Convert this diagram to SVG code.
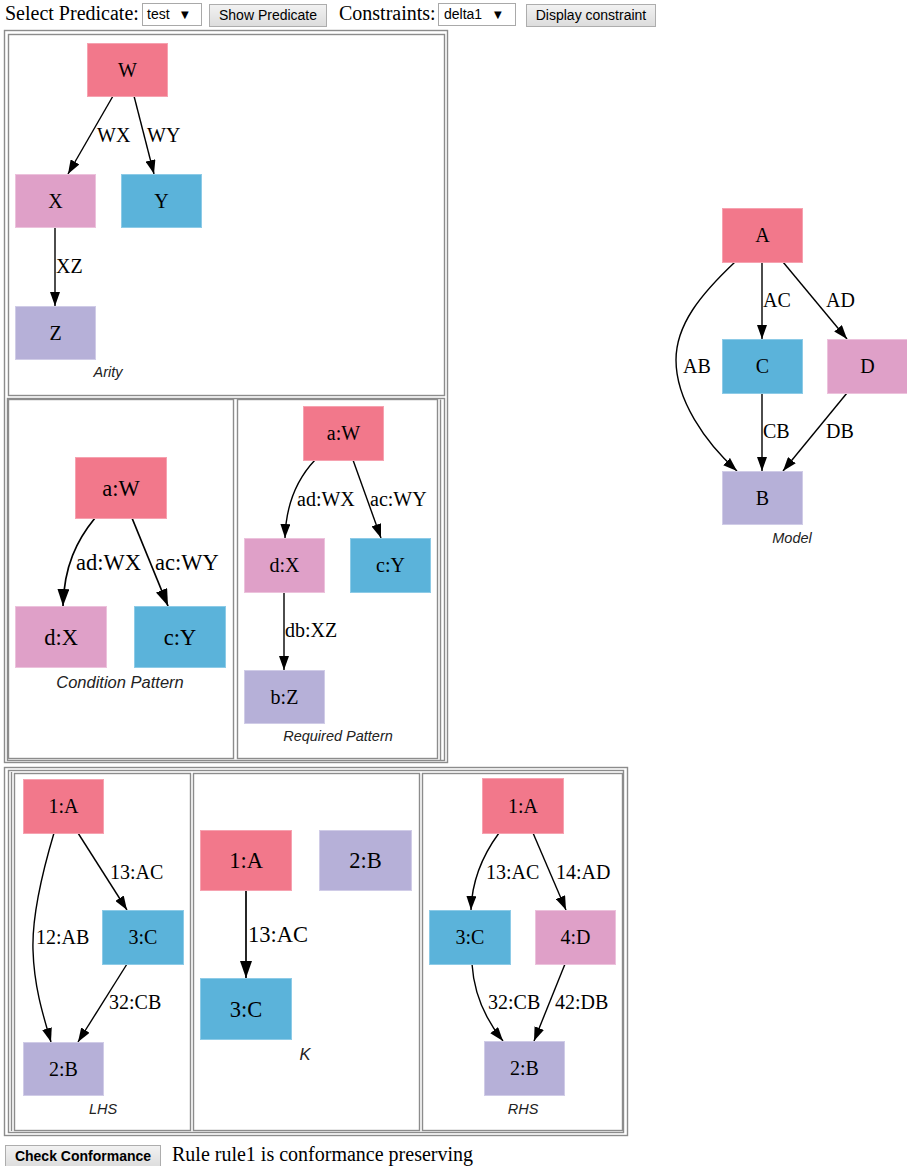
<svg xmlns="http://www.w3.org/2000/svg" width="907" height="1166" viewBox="0 0 907 1166">
  <defs>
    <marker id="arrow" viewBox="0 0 14 10" refX="14" refY="5" markerWidth="14" markerHeight="10" markerUnits="userSpaceOnUse" orient="auto">
      <path d="M0,0 L14,5 L0,10 z" fill="#000"/>
    </marker>
    <marker id="arrowL" viewBox="0 0 17 12" refX="17" refY="6" markerWidth="17" markerHeight="12" markerUnits="userSpaceOnUse" orient="auto">
      <path d="M0,0 L17,6 L0,12 z" fill="#000"/>
    </marker>
    <linearGradient id="btn" x1="0" y1="0" x2="0" y2="1">
      <stop offset="0" stop-color="#f2f2f2"/>
      <stop offset="1" stop-color="#dcdcdc"/>
    </linearGradient>
  </defs>
  <style>
    .page { font-family: "Liberation Serif", "Times New Roman", serif; font-size: 20px; fill: #000; }
    .ctl { font-family: "Liberation Sans", Arial, sans-serif; font-size: 14px; fill: #000; }
    .btn { fill: url(#btn); stroke: #adadad; stroke-width: 1; }
    .sel { fill: #fff; stroke: #a9a9a9; stroke-width: 1; }
    .tbl { fill: none; stroke: #8c8c8c; stroke-width: 1.4; }
    .t, .lbl { font-family: "Liberation Serif", "Times New Roman", serif; font-size: 20px; fill: #000; }
    .t { text-anchor: middle; }
    .t.big, .lbl.big { font-size: 22.5px; }
    .cap { font-family: "Liberation Sans", Arial, sans-serif; font-style: italic; font-size: 14.5px; fill: #222; text-anchor: middle; }
    .cap.big { font-size: 16.5px; }
    .red rect { fill: #f2788b; stroke: #f6a2b0; stroke-width: 1; }
    .blue rect { fill: #5bb3da; stroke: #8dcbe7; stroke-width: 1; }
    .pink rect { fill: #dfa0c8; stroke: #ecc2dc; stroke-width: 1; }
    .lav rect { fill: #b6b0d8; stroke: #d0cce7; stroke-width: 1; }
    .e path { fill: none; stroke: #000; stroke-width: 1.4; marker-end: url(#arrow); }
    .e.big path { stroke-width: 1.7; marker-end: url(#arrowL); }
  </style>

  <rect width="907" height="1166" fill="#fff"/>

  <!-- toolbar -->
  <g id="toolbar">
    <text class="page" x="5" y="20">Select Predicate:</text>
    <rect class="sel" x="142.5" y="3.5" width="59" height="22"/>
    <text class="ctl" x="147" y="19" font-size="15">test</text>
    <text x="181" y="18" font-family="DejaVu Sans, sans-serif" font-size="10">▼</text>
    <rect class="btn" x="209.5" y="4.5" width="117" height="22"/>
    <text class="ctl" x="268" y="20" text-anchor="middle">Show Predicate</text>
    <text class="page" x="339" y="20">Constraints:</text>
    <rect class="sel" x="438.5" y="3.5" width="77" height="22"/>
    <text class="ctl" x="444" y="19" font-size="15">delta1</text>
    <text x="494" y="18" font-family="DejaVu Sans, sans-serif" font-size="10">▼</text>
    <rect class="btn" x="526.5" y="4.5" width="129" height="22"/>
    <text class="ctl" x="591" y="20" text-anchor="middle">Display constraint</text>
  </g>

  <!-- table frames -->
  <g id="frames">
    <rect class="tbl" x="4.5" y="30.5" width="443" height="732"/>
    <rect class="tbl" x="8.5" y="34.5" width="436" height="361"/>
    <rect class="tbl" x="7.5" y="398.5" width="437" height="362"/>
    <rect class="tbl" x="8.5" y="399.5" width="225" height="359"/>
    <rect class="tbl" x="237.5" y="399.5" width="200" height="359"/>
    <line class="tbl" x1="440.5" y1="399.5" x2="440.5" y2="760.5"/>

    <rect class="tbl" x="4.5" y="767.5" width="623" height="368"/>
    <rect class="tbl" x="8.5" y="770.5" width="615" height="362"/>
    <line class="tbl" x1="11.5" y1="772" x2="11.5" y2="1131"/>
    <rect class="tbl" x="14.5" y="773.5" width="176" height="357"/>
    <rect class="tbl" x="193.5" y="773.5" width="226" height="357"/>
    <rect class="tbl" x="422.5" y="773.5" width="200" height="357"/>
  </g>

  <!-- Arity -->
  <g id="arity" font-family="Liberation Serif, serif">
    <g id="arity-edges" class="e">
      <path d="M113,96 L68,174"/>
      <path d="M134,96 L154,174"/>
      <path d="M55,228 L55,306"/>
    </g>
    <text class="lbl" x="97" y="142">WX</text>
    <text class="lbl" x="147" y="142">WY</text>
    <text class="lbl" x="56" y="273">XZ</text>
    <g id="arity-W" class="red"><rect x="87.5" y="43.5" width="80" height="53"/><text class="t" x="127.5" y="77">W</text></g>
    <g id="arity-X" class="pink"><rect x="15.5" y="174.5" width="80" height="53"/><text class="t" x="55.5" y="208">X</text></g>
    <g id="arity-Y" class="blue"><rect x="121.5" y="174.5" width="80" height="53"/><text class="t" x="161.5" y="208">Y</text></g>
    <g id="arity-Z" class="lav"><rect x="15.5" y="306.5" width="80" height="53"/><text class="t" x="55.5" y="340">Z</text></g>
    <text class="cap" x="108" y="377">Arity</text>
  </g>

  <!-- Condition Pattern -->
  <g id="condition" font-family="Liberation Serif, serif">
    <g id="condition-edges" class="e big">
      <path d="M95,518 C77,540 64,566 63,606"/>
      <path d="M132,518 L168,606"/>
    </g>
    <text class="lbl big" x="76" y="570">ad:WX</text>
    <text class="lbl big" x="155" y="570">ac:WY</text>
    <g id="cond-aW" class="red"><rect x="75.5" y="457.5" width="91" height="61"/><text class="t big" x="121" y="496">a:W</text></g>
    <g id="cond-dX" class="pink"><rect x="15.5" y="606.5" width="91" height="61"/><text class="t big" x="61" y="645">d:X</text></g>
    <g id="cond-cY" class="blue"><rect x="134.5" y="606.5" width="91" height="61"/><text class="t big" x="180" y="645">c:Y</text></g>
    <text class="cap big" x="120" y="688">Condition Pattern</text>
  </g>

  <!-- Required Pattern -->
  <g id="required" font-family="Liberation Serif, serif">
    <g id="required-edges" class="e">
      <path d="M315,460 C298,478 286,502 285,538"/>
      <path d="M353,460 L381,538"/>
      <path d="M284,592 L284,670"/>
    </g>
    <text class="lbl" x="297" y="506">ad:WX</text>
    <text class="lbl" x="370" y="506">ac:WY</text>
    <text class="lbl" x="285" y="637">db:XZ</text>
    <g id="req-aW" class="red"><rect x="303.5" y="406.5" width="80" height="54"/><text class="t" x="343.5" y="440">a:W</text></g>
    <g id="req-dX" class="pink"><rect x="244.5" y="538.5" width="80" height="54"/><text class="t" x="284.5" y="572">d:X</text></g>
    <g id="req-cY" class="blue"><rect x="350.5" y="538.5" width="80" height="54"/><text class="t" x="390.5" y="572">c:Y</text></g>
    <g id="req-bZ" class="lav"><rect x="244.5" y="670.5" width="80" height="53"/><text class="t" x="284.5" y="704">b:Z</text></g>
    <text class="cap" x="338" y="741">Required Pattern</text>
  </g>

  <!-- Model -->
  <g id="model" font-family="Liberation Serif, serif">
    <g id="model-edges" class="e">
      <path d="M735,262 C700,295 676,325 676,360 C676,400 705,442 737,471"/>
      <path d="M762,262 L762,339"/>
      <path d="M783,262 L847,339"/>
      <path d="M762,393 L762,471"/>
      <path d="M847,393 L783,471"/>
    </g>
    <text class="lbl" x="683" y="373">AB</text>
    <text class="lbl" x="763" y="307">AC</text>
    <text class="lbl" x="826" y="307">AD</text>
    <text class="lbl" x="763" y="438">CB</text>
    <text class="lbl" x="826" y="438">DB</text>
    <g id="model-A" class="red"><rect x="722.5" y="208.5" width="80" height="54"/><text class="t" x="762.5" y="242">A</text></g>
    <g id="model-C" class="blue"><rect x="722.5" y="339.5" width="80" height="54"/><text class="t" x="762.5" y="373">C</text></g>
    <g id="model-D" class="pink"><rect x="827.5" y="339.5" width="80" height="54"/><text class="t" x="867.5" y="373">D</text></g>
    <g id="model-B" class="lav"><rect x="722.5" y="471.5" width="80" height="53"/><text class="t" x="762.5" y="505">B</text></g>
    <text class="cap" x="792" y="543">Model</text>
  </g>

  <!-- LHS -->
  <g id="lhs" font-family="Liberation Serif, serif">
    <g id="lhs-edges" class="e">
      <path d="M54,833 C40,880 32,920 33,950 C34,985 42,1012 51,1042"/>
      <path d="M78,833 L127,910"/>
      <path d="M127,964 L78,1042"/>
    </g>
    <text class="lbl" x="36" y="944">12:AB</text>
    <text class="lbl" x="110" y="879">13:AC</text>
    <text class="lbl" x="109" y="1009">32:CB</text>
    <g id="lhs-1A" class="red"><rect x="23.5" y="779.5" width="80" height="54"/><text class="t" x="63.5" y="813">1:A</text></g>
    <g id="lhs-3C" class="blue"><rect x="102.5" y="910.5" width="81" height="54"/><text class="t" x="143" y="944">3:C</text></g>
    <g id="lhs-2B" class="lav"><rect x="23.5" y="1042.5" width="80" height="53"/><text class="t" x="63.5" y="1076">2:B</text></g>
    <text class="cap" x="103" y="1114">LHS</text>
  </g>

  <!-- K -->
  <g id="k" font-family="Liberation Serif, serif">
    <g id="k-edges" class="e big">
      <path d="M246,890 L246,978" stroke-width="2"/>
    </g>
    <text class="lbl big" x="248" y="942">13:AC</text>
    <g id="k-1A" class="red"><rect x="200.5" y="830.5" width="91" height="60"/><text class="t big" x="246" y="868">1:A</text></g>
    <g id="k-2B" class="lav"><rect x="319.5" y="830.5" width="92" height="60"/><text class="t big" x="365.5" y="868">2:B</text></g>
    <g id="k-3C" class="blue"><rect x="200.5" y="978.5" width="91" height="61"/><text class="t big" x="246" y="1017">3:C</text></g>
    <text class="cap big" x="305" y="1060">K</text>
  </g>

  <!-- RHS -->
  <g id="rhs" font-family="Liberation Serif, serif">
    <g id="rhs-edges" class="e">
      <path d="M499,833 C485,852 472,876 471,910"/>
      <path d="M533,833 L566,910"/>
      <path d="M472,964 C474,995 486,1020 503,1041"/>
      <path d="M565,964 L534,1041"/>
    </g>
    <text class="lbl" x="486" y="879">13:AC</text>
    <text class="lbl" x="556" y="879">14:AD</text>
    <text class="lbl" x="488" y="1009">32:CB</text>
    <text class="lbl" x="555" y="1009">42:DB</text>
    <g id="rhs-1A" class="red"><rect x="482.5" y="778.5" width="81" height="55"/><text class="t" x="523" y="813">1:A</text></g>
    <g id="rhs-3C" class="blue"><rect x="429.5" y="910.5" width="81" height="54"/><text class="t" x="470" y="944">3:C</text></g>
    <g id="rhs-4D" class="pink"><rect x="535.5" y="910.5" width="80" height="54"/><text class="t" x="575.5" y="944">4:D</text></g>
    <g id="rhs-2B" class="lav"><rect x="484.5" y="1041.5" width="80" height="54"/><text class="t" x="524.5" y="1075">2:B</text></g>
    <text class="cap" x="523" y="1114">RHS</text>
  </g>

  <!-- status bar -->
  <g id="status">
    <rect class="btn" x="5.5" y="1145.5" width="155" height="22"/>
    <text class="ctl" x="83" y="1161" text-anchor="middle" font-weight="bold" font-size="13.5">Check Conformance</text>
    <text class="page" x="172" y="1161">Rule rule1 is conformance preserving</text>
  </g>
</svg>
